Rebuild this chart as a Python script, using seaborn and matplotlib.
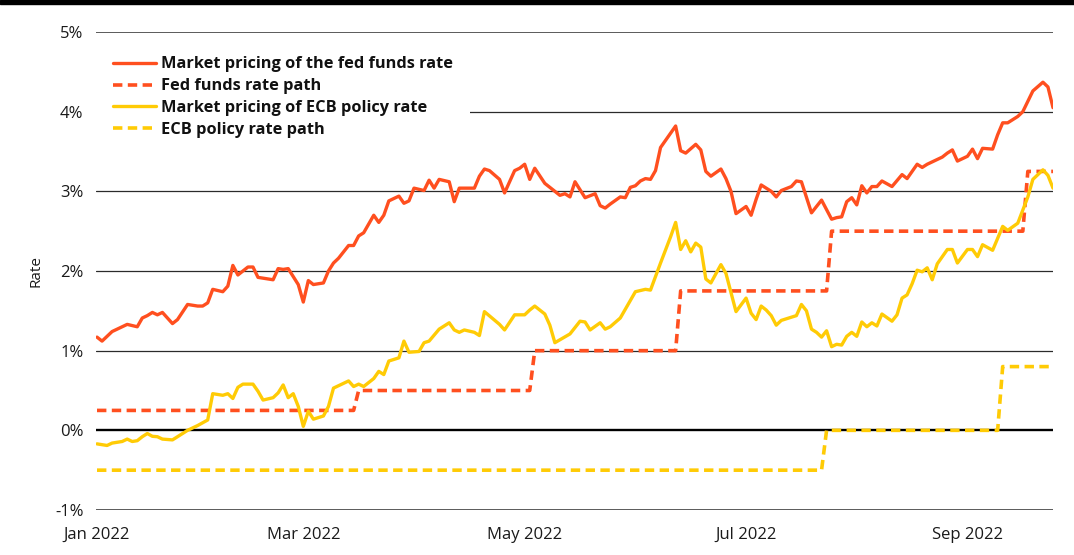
import numpy as np
import pandas as pd
import matplotlib.pyplot as plt
import matplotlib.patches as mpatches
import seaborn as sns

# trading days from 3 Jan 2022, one per business day
dates = pd.bdate_range('2022-01-03', periods=191)

# market pricing of the fed funds rate (%), by trading-day number
fed_mkt_day = [0, 1, 3, 4, 6, 8, 9, 10, 11, 12,
               13, 14, 15, 16, 18, 20, 21, 22, 23, 25,
               26, 27, 28, 30, 31, 32, 35, 36, 37, 38,
               40, 41, 42, 43, 45, 46, 47, 48, 50, 51,
               52, 53, 55, 56, 57, 58, 59, 60, 61, 62,
               63, 65, 66, 67, 68, 70, 71, 72, 75, 76,
               77, 78, 80, 81, 82, 83, 84, 85, 86, 87,
               89, 90, 92, 93, 94, 95, 96, 97, 99, 100,
               101, 102, 104, 105, 106, 107, 108, 109, 110, 111,
               112, 115, 116, 117, 119, 120, 121, 122, 124, 125,
               126, 127, 129, 130, 131, 132, 134, 135, 136, 138,
               139, 140, 142, 143, 144, 146, 147, 148, 149, 150,
               151, 152, 153, 154, 155, 156, 158, 160, 161, 163,
               164, 165, 166, 168, 169, 170, 171, 173, 174, 175,
               176, 178, 179, 180, 181, 183, 184, 186, 188, 189,
               190]
fed_mkt = [1.17, 1.12, 1.24, 1.27, 1.33, 1.30, 1.41, 1.44, 1.48, 1.45,
           1.48, 1.41, 1.34, 1.39, 1.58, 1.56, 1.56, 1.60, 1.77, 1.74,
           1.81, 2.07, 1.95, 2.05, 2.05, 1.92, 1.89, 2.03, 2.02, 2.03,
           1.83, 1.61, 1.88, 1.83, 1.85, 2.00, 2.10, 2.16, 2.32, 2.32,
           2.44, 2.48, 2.70, 2.61, 2.70, 2.88, 2.91, 2.94, 2.85, 2.88,
           3.04, 3.01, 3.14, 3.04, 3.15, 3.12, 2.87, 3.04, 3.04, 3.19,
           3.28, 3.26, 3.15, 2.98, 3.12, 3.26, 3.29, 3.34, 3.15, 3.29,
           3.10, 3.05, 2.95, 2.97, 2.93, 3.12, 3.02, 2.92, 2.97, 2.82,
           2.79, 2.84, 2.93, 2.92, 3.05, 3.07, 3.13, 3.16, 3.15, 3.26,
           3.55, 3.82, 3.51, 3.48, 3.59, 3.52, 3.25, 3.19, 3.28, 3.16,
           3.00, 2.72, 2.81, 2.70, 2.90, 3.08, 3.00, 2.93, 3.01, 3.06,
           3.13, 3.12, 2.73, 2.81, 2.89, 2.65, 2.67, 2.68, 2.87, 2.92,
           2.83, 3.07, 2.98, 3.06, 3.06, 3.13, 3.06, 3.21, 3.16, 3.34,
           3.30, 3.34, 3.37, 3.43, 3.48, 3.52, 3.38, 3.44, 3.53, 3.41,
           3.54, 3.53, 3.71, 3.86, 3.86, 3.94, 4.00, 4.26, 4.37, 4.31,
           4.05]

# market pricing of the ECB policy rate (%)
ecb_mkt_day = [0, 2, 3, 5, 6, 7, 8, 9, 10, 11,
               12, 13, 15, 16, 17, 18, 20, 22, 23, 25,
               26, 27, 28, 29, 31, 32, 33, 35, 36, 37,
               38, 39, 40, 41, 42, 43, 45, 46, 47, 50,
               51, 52, 53, 55, 56, 57, 58, 60, 61, 62,
               64, 65, 66, 68, 70, 71, 72, 73, 75, 76,
               77, 80, 81, 83, 85, 86, 87, 89, 90, 91,
               94, 96, 97, 98, 100, 101, 102, 104, 107, 109,
               110, 112, 114, 115, 116, 117, 118, 119, 120, 121,
               122, 124, 125, 127, 129, 130, 131, 132, 133, 134,
               135, 136, 139, 140, 141, 142, 143, 144, 145, 146,
               147, 148, 149, 150, 151, 152, 153, 154, 155, 156,
               158, 159, 160, 161, 162, 163, 164, 165, 166, 167,
               169, 170, 171, 173, 174, 175, 176, 178, 180, 181,
               183, 185, 186, 188, 189, 190]
ecb_mkt = [-0.17, -0.19, -0.16, -0.14, -0.11, -0.14, -0.13, -0.08, -0.04, -0.075,
           -0.08, -0.11, -0.12, -0.08, -0.04, 0.00, 0.06, 0.13, 0.46, 0.44,
           0.46, 0.40, 0.54, 0.58, 0.58, 0.49, 0.38, 0.41, 0.47, 0.57,
           0.41, 0.46, 0.30, 0.05, 0.24, 0.14, 0.18, 0.30, 0.53, 0.62,
           0.55, 0.58, 0.55, 0.65, 0.74, 0.70, 0.87, 0.91, 1.12, 0.98,
           0.99, 1.10, 1.12, 1.27, 1.35, 1.26, 1.23, 1.26, 1.23, 1.19,
           1.49, 1.33, 1.26, 1.45, 1.45, 1.51, 1.56, 1.46, 1.32, 1.10,
           1.21, 1.37, 1.36, 1.26, 1.35, 1.27, 1.30, 1.41, 1.74, 1.77,
           1.76, 2.10, 2.43, 2.61, 2.27, 2.38, 2.24, 2.35, 2.30, 1.90,
           1.85, 2.08, 1.97, 1.49, 1.66, 1.47, 1.39, 1.56, 1.51, 1.44,
           1.32, 1.38, 1.44, 1.58, 1.50, 1.27, 1.23, 1.17, 1.25, 1.05,
           1.08, 1.07, 1.18, 1.23, 1.18, 1.36, 1.30, 1.35, 1.31, 1.46,
           1.37, 1.45, 1.66, 1.70, 1.84, 2.01, 1.99, 2.04, 1.89, 2.09,
           2.27, 2.27, 2.10, 2.27, 2.27, 2.18, 2.33, 2.26, 2.56, 2.51,
           2.60, 2.93, 3.15, 3.27, 3.20, 3.04]

# policy rate paths (step changes)
fed_path_day = [0, 51, 52, 86, 87, 115, 116, 145, 146, 184, 185, 190]
fed_path = [0.25, 0.25, 0.5, 0.5, 1.0, 1.0, 1.75, 1.75, 2.5, 2.5, 3.25, 3.25]
ecb_path_day = [0, 144, 145, 179, 180, 190]
ecb_path = [-0.5, -0.5, 0.0, 0.0, 0.8, 0.8]

tick_months = ['Jan 2022', 'Mar 2022', 'May 2022', 'Jul 2022', 'Sep 2022']
y_ticks = [-1, 0, 1, 2, 3, 4, 5]

assert len(fed_mkt_day) == len(fed_mkt)
assert len(ecb_mkt_day) == len(ecb_mkt)

RED = '#FF4F1F'
YELLOW = '#FFCB05'

sns.set_style('white')
plt.rcParams['font.family'] = ['Open Sans', 'DejaVu Sans']

fig = plt.figure(figsize=(10.74, 5.55), dpi=100)
ax = fig.add_axes([96 / 1074, 1 - 510 / 555, (1053 - 96) / 1074, (510 - 32) / 555])

# horizontal grid
for v in y_ticks:
    if v == 0:
        ax.axhline(v, color='black', lw=1.7, zorder=1)
    elif v in (-1, 5):
        ax.axhline(v, color='#5a5a5a', lw=1.4, zorder=1)
    else:
        ax.axhline(v, color='#2b2b2b', lw=0.9, zorder=1)

dash = (0, (2.6, 1.5))
sns.lineplot(x=fed_mkt_day, y=fed_mkt, color=RED, lw=2.4, ax=ax,
             label='Market pricing of the fed funds rate', zorder=3)
sns.lineplot(x=fed_path_day, y=fed_path, color=RED, lw=2.6, ax=ax,
             linestyle=dash, label='Fed funds rate path', zorder=3)
sns.lineplot(x=ecb_mkt_day, y=ecb_mkt, color=YELLOW, lw=2.4, ax=ax,
             label='Market pricing of ECB policy rate', zorder=3)
sns.lineplot(x=ecb_path_day, y=ecb_path, color=YELLOW, lw=2.6, ax=ax,
             linestyle=dash, label='ECB policy rate path', zorder=3)

ax.set_xlim(-0.2, 190)
ax.set_ylim(-1, 5)
ax.set_yticks(y_ticks)
ax.set_yticklabels([f'{v}%' for v in y_ticks])
tick_pos = [dates.searchsorted(pd.Timestamp(m)) for m in tick_months]
ax.set_xticks(tick_pos)
ax.set_xticklabels(tick_months)
ax.tick_params(axis='both', length=0, labelsize=12, colors='#1a1a1a')
ax.tick_params(axis='y', pad=9)
ax.tick_params(axis='x', pad=12)
ax.set_xlabel('')
ax.set_ylabel('Rate', fontsize=11, color='#1a1a1a', labelpad=8)
sns.despine(ax=ax, left=True, bottom=True)

leg = ax.legend(loc='upper left', bbox_to_anchor=(0, 0.985), frameon=True,
                facecolor='white', edgecolor='none', framealpha=1,
                prop={'weight': 'bold', 'size': 11.8},
                handlelength=2.6, handletextpad=0.3, labelspacing=0.36,
                borderpad=1.05, borderaxespad=0)
leg.set_zorder(5)
for t in leg.get_texts():
    t.set_color('#111111')

# black rule across the top of the figure
fig.patches.append(mpatches.Rectangle((0, 1 - 3.5 / 555), 1, 3.5 / 555,
                                      transform=fig.transFigure,
                                      color='black', zorder=10))

plt.savefig('out.png', dpi=100)
plt.close()
